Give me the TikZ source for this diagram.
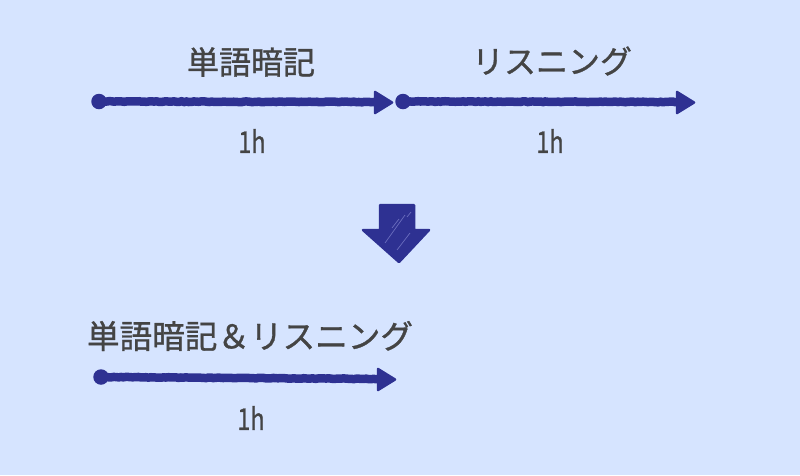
\documentclass[tikz,border=0pt]{standalone}
\usepackage{fontspec}
\usetikzlibrary{decorations.pathmorphing}
\setmainfont{Noto Sans CJK JP}[FakeBold=1]
\definecolor{bgblue}{HTML}{D6E4FF}
\definecolor{arrowblue}{HTML}{2E3192}
\definecolor{scratchblue}{HTML}{6A6DBE}
\definecolor{textgray}{HTML}{444444}
\pgfmathsetseed{7}
\tikzset{
    every node/.style={font=\fontsize{32pt}{32pt}\selectfont, text=textgray, inner sep=0pt},
    hourlabel/.style={font=\fontsize{30pt}{30pt}\selectfont, transform shape, xscale=.78},
    rough/.style={decorate, decoration={random steps, segment length=2.5pt, amplitude=.35pt}},
    timeline/.style={draw=arrowblue, line width=8.5pt, rough},
    tiphead/.style={fill=arrowblue, draw=arrowblue, line width=2.5pt, line join=round},
    startdot/.style={circle, fill=arrowblue, minimum size=15.5pt},
    scratch/.style={draw=scratchblue, line width=.7pt}
}
\begin{document}
\begin{tikzpicture}[x=1pt, y=-1pt]
	\fill[bgblue] (0,0) rectangle (800,475);
	\useasboundingbox (0,0) rectangle (800,475);

	\node (study) at (251,62) {単語暗記};
	\node (listen) at (552,61) {リスニング};
	\node (both) at (250,336) {\fontsize{32.6pt}{32.6pt}\selectfont 単語暗記＆リスニング};
	\node (h1) [hourlabel] at (252,141) {1h};
	\node (h2) [hourlabel] at (550,141) {1h};
	\node (h3) [hourlabel] at (251,418) {1h};

	\node (s1) [startdot] at (99,101.5) {};
	\node (s2) [startdot] at (403,101.5) {};
	\node (s3) [startdot] at (101,377) {};
	\coordinate (e1) at (378,102);
	\coordinate (e2) at (680,102);
	\coordinate (e3) at (381,379);

	\draw[timeline] (s1.center) -- (e1);
	\draw[timeline] (s2.center) -- (e2);
	\draw[timeline] (s3.center) -- (e3);
	\fill[tiphead] (375,92) -- (392,102.5) -- (375,113) -- cycle;
	\fill[tiphead] (677,92) -- (694,102.5) -- (677,113) -- cycle;
	\fill[tiphead] (378,369) -- (395,379.5) -- (378,390) -- cycle;

	\fill[tiphead] (380,205) -- (414,205) -- (414,230) -- (429,230) -- (399,262) -- (363,230) -- (380,230) -- cycle;
	\draw[scratch] (385,243) -- (405,215);
	\draw[scratch] (392,228) -- (399,219);
	\draw[scratch] (397,250) -- (410,233);
	\draw[scratch] (407,217) -- (411,212);
\end{tikzpicture}
\end{document}
